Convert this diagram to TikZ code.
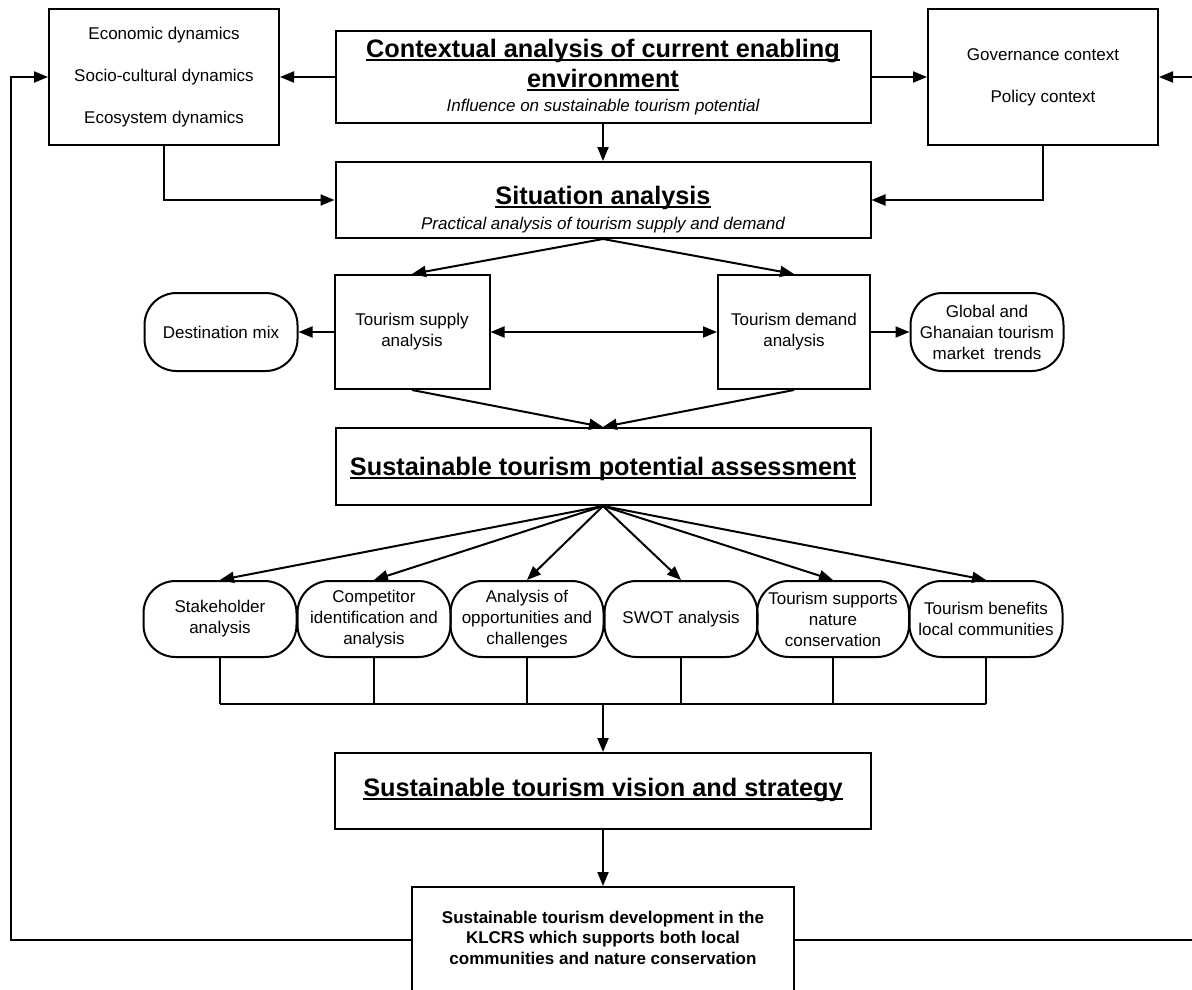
\documentclass[tikz,border=0pt]{standalone}
\usepackage{fontspec}
\setmainfont{Liberation Sans}
\usetikzlibrary{arrows.meta}
\newcommand\myul[1]{\leavevmode\setbox0\hbox{#1}\rlap{\rule[-4pt]{\wd0}{2pt}}\box0}
\newcommand\bigttl{\fontsize{25.3}{30}\selectfont\bfseries}
\newcommand\subttl{\fontsize{17}{21}\selectfont\mdseries\itshape}
\tikzset{
  box/.style={draw, line width=2pt, align=center, inner sep=2pt,
    font=\fontsize{17}{21}\selectfont},
  pill/.style={box, rounded corners=32pt, minimum width=153pt, minimum height=76pt},
  ttl/.style={font=\bigttl},
  conn/.style={line width=2pt},
  arr/.style={conn, -{Triangle[length=14pt,width=11pt]}},
  darr/.style={conn, {Triangle[length=14pt,width=11pt]}-{Triangle[length=14pt,width=11pt]}},
}
\begin{document}
\begin{tikzpicture}[x=1pt,y=-1pt]
\useasboundingbox[fill=white] (0,0) rectangle (1192,990);
% top row
\node[box, minimum width=230pt, minimum height=136pt, font=\fontsize{17}{42}\selectfont] (dyn) at (164,77)
  {Economic dynamics\\Socio-cultural dynamics\\Ecosystem dynamics};
\node[box, minimum width=535pt, minimum height=91pt, font=\bigttl] (ctx) at (603,77)
  {\myul{Contextual analysis of current enabling}\\ \myul{environment}\\[-6pt]
   \subttl Influence on sustainable tourism potential};
\node[box, minimum width=230pt, minimum height=136pt, font=\fontsize{17}{42}\selectfont] (gov) at (1043,77)
  {Governance context\\Policy context};
% situation
\node[box, minimum width=535pt, minimum height=76pt, font=\bigttl] (sit) at (603,200)
  {\mbox{}\\[7pt]\myul{Situation analysis}\\[-5pt]
   \subttl Practical analysis of tourism supply and demand};
% supply / demand
\node[box, minimum width=155pt, minimum height=114pt] (sup) at (412,332) {Tourism supply\\analysis};
\node[box, minimum width=152pt, minimum height=114pt] (dem) at (794,332) {Tourism demand\\analysis};
\node[pill, minimum height=78pt] (dest) at (221,332) {Destination mix};
\node[pill, minimum height=78pt] (glob) at (987,332) {Global and\\Ghanaian tourism\\market\ \ trends};
% assessment
\node[box, minimum width=535pt, minimum height=77pt, ttl] (ass) at (603,466.5)
  {\mbox{}\\[-7pt]\myul{Sustainable tourism potential assessment}};
% pills
\node[pill] (p1) at (220,619) {Stakeholder\\analysis};
\node[pill] (p2) at (374,619) {Competitor\\identification and\\analysis};
\node[pill] (p3) at (527,619) {Analysis of\\opportunities and\\challenges};
\node[pill] (p4) at (681,619) {SWOT analysis};
\node[pill, minimum width=152pt] (p5) at (833,619) {Tourism supports\\nature\\conservation};
\node[pill] (p6) at (986,619) {Tourism benefits\\local communities};
% vision
\node[box, minimum width=536pt, minimum height=76pt, ttl] (vis) at (603,791)
  {\myul{Sustainable tourism vision and strategy}\\[-22pt]\mbox{}};
% final
\node[box, minimum width=382pt, minimum height=106pt, font=\fontsize{17}{20.5}\selectfont\bfseries] (fin) at (603,940)
  {Sustainable tourism development in the\\KLCRS which supports both local\\communities and nature conservation\\[-16pt]\mbox{}};
% coordinates
\coordinate (fbL) at (11,940);
\coordinate (fbR) at (1205,940);
\coordinate (bus) at (603,704);
% connectors
\draw[arr] (ctx.west) -- (dyn.east);
\draw[arr] (ctx.east) -- (gov.west);
\draw[arr] (fin.west) -- (fbL) |- (dyn.west);
\draw[arr] (fin.east) -- (fbR) |- (gov.east);
\draw[arr] (ctx.south) -- (sit.north);
\draw[arr] (dyn.south) |- (sit.west);
\draw[arr] (gov.south) |- (sit.east);
\draw[arr] (sit.south) -- (sup.north);
\draw[arr] (sit.south) -- (dem.north);
\draw[arr] (sup.west) -- (dest.east);
\draw[arr] (dem.east) -- (glob.west);
\draw[darr] (sup.east) -- (dem.west);
\draw[arr] (sup.south) -- (ass.north);
\draw[arr] (dem.south) -- (ass.north);
\foreach \p in {p1,p2,p3,p4,p5,p6} {
  \draw[arr] (ass.south) -- (\p.north);
  \draw[conn] (\p.south) -- (\p.south |- bus);
}
\draw[conn] (p1.south |- bus) -- (p6.south |- bus);
\draw[arr, line width=2.2pt] (bus) -- (vis.north);
\draw[arr] (vis.south) -- (fin.north);
\end{tikzpicture}
\end{document}
